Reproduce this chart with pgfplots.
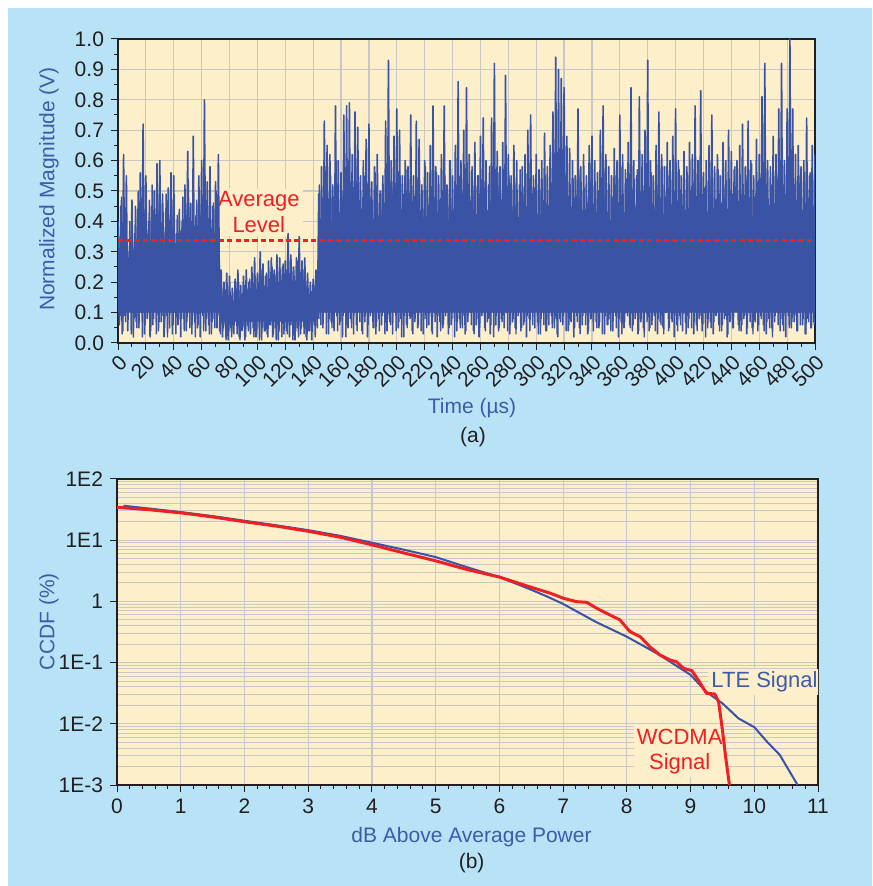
\documentclass[border=0pt]{standalone}
\usepackage{fontspec}
\setmainfont{Liberation Sans}
\usepackage{pgfplots}
\pgfplotsset{compat=1.18}
\definecolor{bgblue}{HTML}{B8E3F7}
\definecolor{wheat}{HTML}{FCEFC9}
\definecolor{sigblue}{HTML}{3A53A4}
\definecolor{lblue}{HTML}{3E5BA9}
\definecolor{sred}{HTML}{ED2024}
\definecolor{gridc}{HTML}{C8C8C8}
\definecolor{tickc}{HTML}{231F20}
\newcommand{\fs}{\fontsize{10.5}{12.6}\selectfont}
\pgfplotsset{
  myaxis/.style={
    scale only axis,
    anchor=south west,
    axis background/.style={fill=wheat},
    axis line style={tickc, line width=0.6pt},
    tick align=outside,
    xtick pos=bottom, ytick pos=left,
    major tick length=3.5pt, minor tick length=2pt,
    every tick/.style={tickc, line width=0.5pt},
    tick label style={font=\fs, text=tickc},
    /pgf/number format/assume math mode=true,
    major grid style={gridc, line width=0.6pt},
    minor grid style={gridc, line width=0.5pt},
  }
}
\begin{document}
\begin{tikzpicture}
\fill[white] (0pt,0pt) rectangle (436pt,443pt);
\fill[bgblue] (4pt,0pt) rectangle (436pt,439pt);
\begin{axis}[myaxis, at={(59pt,271.5pt)}, width=348.5pt, height=152pt,
  xmin=0, xmax=500, ymin=0, ymax=1,
  xtick={0,20,...,500}, minor x tick num=1,
  ytick={0,0.1,0.2,0.3,0.4,0.5,0.6,0.7,0.8,0.9,1.0}, minor y tick num=1,
  xmajorgrids, ymajorgrids,
  yticklabel style={/pgf/number format/.cd, fixed, fixed zerofill, precision=1},
  xticklabel style={rotate=45, anchor=north east, inner sep=1pt},
]
\node[fill=wheat, text=sred, align=center, font=\fontsize{11}{12.8}\selectfont, inner sep=1.5pt] at (axis cs:101,0.43) {Average\\Level};
% dense core of the signal
\addplot[draw=none, fill=sigblue] coordinates {
(0,0.28)(4,0.32)(8,0.22)(12,0.30)(18,0.33)(24,0.30)(30,0.34)(36,0.31)(42,0.29)(48,0.32)(54,0.34)(60,0.31)(66,0.33)(72,0.30)(73,0.13)(80,0.12)(90,0.13)(100,0.15)(110,0.16)(120,0.17)(130,0.16)(142,0.14)(144,0.30)(150,0.36)(160,0.38)(170,0.36)(180,0.35)(190,0.34)(200,0.37)(210,0.35)(220,0.34)(230,0.36)(240,0.37)(250,0.36)(260,0.35)(270,0.37)(280,0.36)(290,0.34)(300,0.35)(310,0.37)(320,0.38)(330,0.36)(340,0.34)(350,0.36)(360,0.35)(370,0.37)(380,0.36)(390,0.34)(400,0.35)(410,0.36)(420,0.34)(430,0.35)(440,0.36)(450,0.34)(460,0.36)(470,0.37)(480,0.37)(490,0.35)(500,0.34)
(500,0.10)(300,0.10)(144,0.10)(142,0.07)(73,0.07)(72,0.10)(0,0.10)};
% spikes, series sampled at whole microseconds
\addplot[sigblue, line width=0.8pt, line join=round] coordinates {
(0,0.40)(1,0.06)(2,0.45)(3,0.03)(4,0.62)(5,0.09)(6,0.55)(7,0.04)(8,0.30)(9,0.12)(10,0.47)(11,0.02)(12,0.36)(13,0.07)(14,0.44)(15,0.05)(16,0.56)(17,0.10)(18,0.72)(19,0.03)
(20,0.55)(21,0.08)(22,0.40)(23,0.02)(24,0.45)(25,0.06)(26,0.50)(27,0.11)(28,0.59)(29,0.04)(30,0.60)(31,0.07)(32,0.49)(33,0.02)(34,0.38)(35,0.09)(36,0.51)(37,0.05)(38,0.56)(39,0.03)
(40,0.55)(41,0.10)(42,0.36)(43,0.06)(44,0.44)(45,0.02)(46,0.40)(47,0.08)(48,0.52)(49,0.04)(50,0.63)(51,0.12)(52,0.46)(53,0.03)(54,0.68)(55,0.07)(56,0.42)(57,0.05)(58,0.55)(59,0.02)
(60,0.60)(61,0.09)(62,0.80)(63,0.04)(64,0.53)(65,0.06)(66,0.58)(67,0.03)(68,0.45)(69,0.08)(70,0.53)(71,0.05)(72,0.62)
(73,0.04)(74,0.24)(75,0.02)(76,0.20)(77,0.06)(78,0.23)(79,0.01)(80,0.22)(81,0.05)(82,0.18)(83,0.03)(84,0.21)(85,0.07)(86,0.24)(87,0.02)(88,0.19)(89,0.04)(90,0.22)(91,0.01)(92,0.24)
(93,0.06)(94,0.20)(95,0.03)(96,0.25)(97,0.05)(98,0.28)(99,0.02)(100,0.23)(101,0.08)(102,0.30)(103,0.01)(104,0.26)(105,0.04)(106,0.22)(107,0.03)(108,0.27)(109,0.06)(110,0.28)(111,0.02)(112,0.24)
(113,0.05)(114,0.29)(115,0.01)(116,0.28)(117,0.07)(118,0.25)(119,0.03)(120,0.27)(121,0.04)(122,0.36)(123,0.02)(124,0.29)(125,0.06)(126,0.25)(127,0.01)(128,0.28)(129,0.05)(130,0.35)(131,0.03)(132,0.27)
(133,0.07)(134,0.28)(135,0.02)(136,0.23)(137,0.04)(138,0.20)(139,0.01)(140,0.21)(141,0.06)(142,0.24)(143,0.05)
(144,0.49)(145,0.08)(146,0.58)(147,0.05)(148,0.73)(149,0.11)(150,0.65)(151,0.03)(152,0.62)(153,0.07)(154,0.52)(155,0.04)(156,0.78)(157,0.09)(158,0.60)(159,0.06)(160,0.56)(161,0.02)(162,0.75)(163,0.10)
(164,0.78)(165,0.05)(166,0.79)(167,0.08)(168,0.62)(169,0.03)(170,0.76)(171,0.06)(172,0.71)(173,0.12)(174,0.55)(175,0.04)(176,0.60)(177,0.07)(178,0.67)(179,0.02)(180,0.72)(181,0.09)(182,0.53)(183,0.05)
(184,0.58)(185,0.03)(186,0.62)(187,0.08)(188,0.50)(189,0.06)(190,0.55)(191,0.11)(192,0.73)(193,0.04)(194,0.93)(195,0.07)(196,0.60)(197,0.03)(198,0.68)(199,0.10)(200,0.77)(201,0.05)(202,0.70)(203,0.08)
(204,0.55)(205,0.02)(206,0.60)(207,0.06)(208,0.58)(209,0.09)(210,0.75)(211,0.04)(212,0.55)(213,0.07)(214,0.73)(215,0.05)(216,0.67)(217,0.12)(218,0.52)(219,0.03)(220,0.60)(221,0.08)(222,0.56)(223,0.06)
(224,0.65)(225,0.04)(226,0.78)(227,0.10)(228,0.58)(229,0.02)(230,0.55)(231,0.07)(232,0.62)(233,0.05)(234,0.78)(235,0.09)(236,0.52)(237,0.03)(238,0.60)(239,0.06)(240,0.55)(241,0.11)(242,0.65)(243,0.04)
(244,0.86)(245,0.08)(246,0.60)(247,0.05)(248,0.70)(249,0.03)(250,0.84)(251,0.07)(252,0.62)(253,0.10)(254,0.58)(255,0.04)(256,0.66)(257,0.06)(258,0.55)(259,0.02)(260,0.68)(261,0.09)(262,0.74)(263,0.05)
(264,0.60)(265,0.07)(266,0.52)(267,0.03)(268,0.74)(269,0.11)(270,0.92)(271,0.06)(272,0.63)(273,0.04)(274,0.58)(275,0.08)(276,0.66)(277,0.05)(278,0.88)(279,0.10)(280,0.62)(281,0.03)(282,0.55)(283,0.07)
(284,0.65)(285,0.05)(286,0.60)(287,0.09)(288,0.52)(289,0.04)(290,0.58)(291,0.06)(292,0.62)(293,0.02)(294,0.70)(295,0.08)(296,0.75)(297,0.12)(298,0.55)(299,0.05)(300,0.62)(301,0.07)(302,0.57)(303,0.03)
(304,0.60)(305,0.10)(306,0.69)(307,0.04)(308,0.58)(309,0.06)(310,0.65)(311,0.09)(312,0.76)(313,0.05)(314,0.94)(315,0.03)(316,0.90)(317,0.08)(318,0.87)(319,0.06)(320,0.84)(321,0.11)(322,0.68)(323,0.04)
(324,0.64)(325,0.07)(326,0.60)(327,0.02)(328,0.55)(329,0.09)(330,0.77)(331,0.05)(332,0.58)(333,0.06)(334,0.62)(335,0.10)(336,0.55)(337,0.03)(338,0.65)(339,0.08)(340,0.68)(341,0.04)(342,0.60)(343,0.07)
(344,0.56)(345,0.05)(346,0.70)(347,0.11)(348,0.78)(349,0.03)(350,0.62)(351,0.06)(352,0.58)(353,0.08)(354,0.55)(355,0.04)(356,0.64)(357,0.09)(358,0.60)(359,0.02)(360,0.75)(361,0.07)(362,0.62)(363,0.05)
(364,0.57)(365,0.10)(366,0.66)(367,0.06)(368,0.84)(369,0.04)(370,0.60)(371,0.08)(372,0.55)(373,0.03)(374,0.81)(375,0.07)(376,0.62)(377,0.05)(378,0.70)(379,0.12)(380,0.93)(381,0.04)(382,0.60)(383,0.06)
(384,0.55)(385,0.09)(386,0.65)(387,0.03)(388,0.76)(389,0.07)(390,0.62)(391,0.05)(392,0.58)(393,0.10)(394,0.66)(395,0.04)(396,0.60)(397,0.08)(398,0.68)(399,0.02)(400,0.77)(401,0.06)(402,0.60)(403,0.09)
(404,0.55)(405,0.04)(406,0.63)(407,0.07)(408,0.58)(409,0.05)(410,0.66)(411,0.11)(412,0.62)(413,0.03)(414,0.78)(415,0.06)(416,0.60)(417,0.08)(418,0.83)(419,0.04)(420,0.56)(421,0.10)(422,0.60)(423,0.05)
(424,0.65)(425,0.07)(426,0.75)(427,0.03)(428,0.58)(429,0.09)(430,0.62)(431,0.06)(432,0.55)(433,0.04)(434,0.66)(435,0.08)(436,0.60)(437,0.02)(438,0.70)(439,0.07)(440,0.63)(441,0.05)(442,0.57)(443,0.11)
(444,0.60)(445,0.06)(446,0.65)(447,0.04)(448,0.72)(449,0.08)(450,0.58)(451,0.03)(452,0.73)(453,0.10)(454,0.60)(455,0.05)(456,0.55)(457,0.07)(458,0.67)(459,0.04)(460,0.62)(461,0.09)(462,0.81)(463,0.06)
(464,0.92)(465,0.03)(466,0.60)(467,0.08)(468,0.58)(469,0.05)(470,0.68)(471,0.07)(472,0.62)(473,0.11)(474,0.77)(475,0.04)(476,0.92)(477,0.06)(478,0.60)(479,0.02)(480,0.77)(481,0.09)(482,1.00)(483,0.05)
(484,0.77)(485,0.07)(486,0.62)(487,0.04)(488,0.65)(489,0.10)(490,0.58)(491,0.06)(492,0.60)(493,0.03)(494,0.74)(495,0.08)(496,0.55)(497,0.05)(498,0.65)(499,0.07)(500,0.62)};
% spikes, series sampled at half microseconds
\addplot[sigblue, line width=0.7pt, line join=round] coordinates {
(0.5,0.35)(1.5,0.09)(2.5,0.48)(3.5,0.04)(4.5,0.42)(5.5,0.07)(6.5,0.28)(7.5,0.12)(8.5,0.40)(9.5,0.03)(10.5,0.33)(11.5,0.08)(12.5,0.45)(13.5,0.05)(14.5,0.50)(15.5,0.10)(16.5,0.38)(17.5,0.02)(18.5,0.44)(19.5,0.06)
(20.5,0.36)(21.5,0.11)(22.5,0.47)(23.5,0.04)(24.5,0.52)(25.5,0.08)(26.5,0.41)(27.5,0.03)(28.5,0.46)(29.5,0.07)(30.5,0.34)(31.5,0.09)(32.5,0.43)(33.5,0.05)(34.5,0.49)(35.5,0.02)(36.5,0.39)(37.5,0.10)(38.5,0.45)(39.5,0.06)
(40.5,0.30)(41.5,0.03)(42.5,0.42)(43.5,0.08)(44.5,0.37)(45.5,0.12)(46.5,0.48)(47.5,0.04)(48.5,0.44)(49.5,0.07)(50.5,0.53)(51.5,0.05)(52.5,0.40)(53.5,0.09)(54.5,0.36)(55.5,0.02)(56.5,0.47)(57.5,0.06)(58.5,0.50)(59.5,0.10)
(60.5,0.43)(61.5,0.04)(62.5,0.55)(63.5,0.08)(64.5,0.41)(65.5,0.03)(66.5,0.38)(67.5,0.07)(68.5,0.46)(69.5,0.05)(70.5,0.50)(71.5,0.09)
(72.5,0.30)(73.5,0.03)(74.5,0.17)(75.5,0.05)(76.5,0.15)(77.5,0.01)(78.5,0.19)(79.5,0.04)(80.5,0.16)(81.5,0.02)(82.5,0.14)(83.5,0.06)(84.5,0.18)(85.5,0.03)(86.5,0.20)(87.5,0.01)(88.5,0.16)(89.5,0.05)(90.5,0.19)(91.5,0.02)
(92.5,0.17)(93.5,0.04)(94.5,0.21)(95.5,0.07)(96.5,0.18)(97.5,0.02)(98.5,0.22)(99.5,0.03)(100.5,0.20)(101.5,0.01)(102.5,0.24)(103.5,0.05)(104.5,0.19)(105.5,0.04)(106.5,0.23)(107.5,0.02)(108.5,0.21)(109.5,0.06)(110.5,0.25)(111.5,0.03)
(112.5,0.22)(113.5,0.01)(114.5,0.20)(115.5,0.04)(116.5,0.24)(117.5,0.02)(118.5,0.26)(119.5,0.05)(120.5,0.21)(121.5,0.03)(122.5,0.23)(123.5,0.06)(124.5,0.25)(125.5,0.01)(126.5,0.22)(127.5,0.04)(128.5,0.27)(129.5,0.02)(130.5,0.21)(131.5,0.05)
(132.5,0.24)(133.5,0.03)(134.5,0.20)(135.5,0.01)(136.5,0.18)(137.5,0.04)(138.5,0.17)(139.5,0.06)(140.5,0.19)(141.5,0.02)(142.5,0.20)(143.5,0.08)
(144.5,0.52)(145.5,0.06)(146.5,0.45)(147.5,0.10)(148.5,0.58)(149.5,0.03)(150.5,0.40)(151.5,0.08)(152.5,0.55)(153.5,0.05)(154.5,0.48)(155.5,0.11)(156.5,0.60)(157.5,0.04)(158.5,0.43)(159.5,0.07)(160.5,0.50)(161.5,0.09)(162.5,0.57)(163.5,0.02)
(164.5,0.46)(165.5,0.08)(166.5,0.53)(167.5,0.05)(168.5,0.41)(169.5,0.10)(170.5,0.58)(171.5,0.04)(172.5,0.49)(173.5,0.07)(174.5,0.44)(175.5,0.03)(176.5,0.55)(177.5,0.09)(178.5,0.38)(179.5,0.06)(180.5,0.51)(181.5,0.12)(182.5,0.47)(183.5,0.05)
(184.5,0.56)(185.5,0.07)(186.5,0.42)(187.5,0.04)(188.5,0.50)(189.5,0.09)(190.5,0.45)(191.5,0.03)(192.5,0.59)(193.5,0.08)(194.5,0.40)(195.5,0.06)(196.5,0.53)(197.5,0.11)(198.5,0.48)(199.5,0.04)(200.5,0.44)(201.5,0.07)(202.5,0.55)(203.5,0.02)
(204.5,0.49)(205.5,0.09)(206.5,0.57)(207.5,0.05)(208.5,0.41)(209.5,0.08)(210.5,0.52)(211.5,0.03)(212.5,0.46)(213.5,0.10)(214.5,0.54)(215.5,0.06)(216.5,0.39)(217.5,0.04)(218.5,0.50)(219.5,0.08)(220.5,0.58)(221.5,0.05)(222.5,0.45)(223.5,0.11)
(224.5,0.51)(225.5,0.03)(226.5,0.43)(227.5,0.07)(228.5,0.56)(229.5,0.09)(230.5,0.47)(231.5,0.04)(232.5,0.40)(233.5,0.06)(234.5,0.55)(235.5,0.10)(236.5,0.49)(237.5,0.05)(238.5,0.60)(239.5,0.08)(240.5,0.44)(241.5,0.02)(242.5,0.52)(243.5,0.07)
(244.5,0.48)(245.5,0.05)(246.5,0.54)(247.5,0.09)(248.5,0.42)(249.5,0.04)(250.5,0.57)(251.5,0.11)(252.5,0.46)(253.5,0.06)(254.5,0.50)(255.5,0.03)(256.5,0.41)(257.5,0.08)(258.5,0.55)(259.5,0.05)(260.5,0.47)(261.5,0.10)(262.5,0.53)(263.5,0.04)
(264.5,0.44)(265.5,0.08)(266.5,0.58)(267.5,0.06)(268.5,0.50)(269.5,0.02)(270.5,0.43)(271.5,0.09)(272.5,0.56)(273.5,0.05)(274.5,0.39)(275.5,0.07)(276.5,0.52)(277.5,0.11)(278.5,0.47)(279.5,0.04)(280.5,0.55)(281.5,0.06)(282.5,0.45)(283.5,0.08)
(284.5,0.53)(285.5,0.03)(286.5,0.41)(287.5,0.10)(288.5,0.57)(289.5,0.05)(290.5,0.49)(291.5,0.07)(292.5,0.44)(293.5,0.09)(294.5,0.60)(295.5,0.04)(296.5,0.46)(297.5,0.06)(298.5,0.51)(299.5,0.12)(300.5,0.40)(301.5,0.03)(302.5,0.54)(303.5,0.08)
(304.5,0.47)(305.5,0.06)(306.5,0.55)(307.5,0.04)(308.5,0.43)(309.5,0.10)(310.5,0.52)(311.5,0.05)(312.5,0.58)(313.5,0.08)(314.5,0.45)(315.5,0.02)(316.5,0.50)(317.5,0.07)(318.5,0.42)(319.5,0.09)(320.5,0.56)(321.5,0.04)(322.5,0.48)(323.5,0.06)
(324.5,0.40)(325.5,0.11)(326.5,0.54)(327.5,0.05)(328.5,0.49)(329.5,0.07)(330.5,0.57)(331.5,0.03)(332.5,0.44)(333.5,0.09)(334.5,0.51)(335.5,0.06)(336.5,0.46)(337.5,0.04)(338.5,0.59)(339.5,0.08)(340.5,0.42)(341.5,0.10)(342.5,0.53)(343.5,0.05)
(344.5,0.50)(345.5,0.07)(346.5,0.45)(347.5,0.03)(348.5,0.56)(349.5,0.09)(350.5,0.41)(351.5,0.06)(352.5,0.52)(353.5,0.04)(354.5,0.48)(355.5,0.11)(356.5,0.55)(357.5,0.05)(358.5,0.43)(359.5,0.08)(360.5,0.58)(361.5,0.03)(362.5,0.46)(363.5,0.07)
(364.5,0.54)(365.5,0.09)(366.5,0.40)(367.5,0.05)(368.5,0.51)(369.5,0.06)(370.5,0.47)(371.5,0.10)(372.5,0.57)(373.5,0.04)(374.5,0.44)(375.5,0.08)(376.5,0.50)(377.5,0.02)(378.5,0.53)(379.5,0.07)(380.5,0.42)(381.5,0.05)(382.5,0.56)(383.5,0.09)
(384.5,0.45)(385.5,0.04)(386.5,0.52)(387.5,0.08)(388.5,0.48)(389.5,0.06)(390.5,0.58)(391.5,0.03)(392.5,0.41)(393.5,0.11)(394.5,0.55)(395.5,0.05)(396.5,0.46)(397.5,0.07)(398.5,0.50)(399.5,0.09)(400.5,0.43)(401.5,0.04)(402.5,0.57)(403.5,0.06)
(404.5,0.49)(405.5,0.10)(406.5,0.44)(407.5,0.03)(408.5,0.56)(409.5,0.08)(410.5,0.42)(411.5,0.05)(412.5,0.53)(413.5,0.07)(414.5,0.47)(415.5,0.04)(416.5,0.60)(417.5,0.09)(418.5,0.45)(419.5,0.06)(420.5,0.51)(421.5,0.02)(422.5,0.40)(423.5,0.08)
(424.5,0.55)(425.5,0.05)(426.5,0.48)(427.5,0.07)(428.5,0.43)(429.5,0.10)(430.5,0.57)(431.5,0.04)(432.5,0.46)(433.5,0.06)(434.5,0.52)(435.5,0.09)(436.5,0.41)(437.5,0.03)(438.5,0.54)(439.5,0.08)(440.5,0.49)(441.5,0.05)(442.5,0.58)(443.5,0.11)
(444.5,0.44)(445.5,0.04)(446.5,0.51)(447.5,0.06)(448.5,0.47)(449.5,0.09)(450.5,0.55)(451.5,0.05)(452.5,0.42)(453.5,0.07)(454.5,0.59)(455.5,0.03)(456.5,0.48)(457.5,0.10)(458.5,0.53)(459.5,0.06)(460.5,0.45)(461.5,0.08)(462.5,0.50)(463.5,0.04)
(464.5,0.57)(465.5,0.07)(466.5,0.43)(467.5,0.05)(468.5,0.52)(469.5,0.02)(470.5,0.46)(471.5,0.09)(472.5,0.56)(473.5,0.06)(474.5,0.40)(475.5,0.08)(476.5,0.54)(477.5,0.04)(478.5,0.49)(479.5,0.11)(480.5,0.58)(481.5,0.05)(482.5,0.44)(483.5,0.07)
(484.5,0.51)(485.5,0.09)(486.5,0.47)(487.5,0.04)(488.5,0.55)(489.5,0.06)(490.5,0.42)(491.5,0.08)(492.5,0.53)(493.5,0.03)(494.5,0.48)(495.5,0.07)(496.5,0.56)(497.5,0.05)(498.5,0.45)(499.5,0.06)};
\addplot[sred, line width=1.6pt, dash pattern=on 2.6pt off 1.6pt] coordinates {(0,0.336)(500,0.336)};
\end{axis}
\begin{axis}[myaxis, at={(58.5pt,50.5pt)}, width=350.5pt, height=153pt,
  xmin=0, xmax=11, ymin=1e-3, ymax=1e2, ymode=log,
  xtick={0,1,2,3,4,5,6,7,8,9,10,11}, minor x tick num=4,
  ytick={1e-3,1e-2,1e-1,1,1e1,1e2}, yticklabels={1E-3,1E-2,1E-1,1,1E1,1E2},
  minor ytick={2e-3,3e-3,4e-3,5e-3,6e-3,7e-3,8e-3,9e-3,2e-2,3e-2,4e-2,5e-2,6e-2,7e-2,8e-2,9e-2,0.2,0.3,0.4,0.5,0.6,0.7,0.8,0.9,2,3,4,5,6,7,8,9,20,30,40,50,60,70,80,90},
  minor y tick style={draw=none},
  xmajorgrids, ymajorgrids, yminorgrids,
]
\node[fill=wheat, text=lblue, font=\fontsize{11}{13}\selectfont, inner sep=1.5pt] at (axis cs:10.16,0.048) {LTE Signal};
\node[fill=wheat, text=sred, font=\fontsize{11}{12.8}\selectfont, align=center, inner sep=1.5pt] at (axis cs:8.83,0.0035) {WCDMA\\Signal};
\addplot[sigblue, line width=1pt] coordinates {
(0.1,36.6)(0.5,33)(1,28.8)(1.5,24.8)(2,20.8)(2.5,17.5)(3,14.6)(3.5,11.8)(4,9.1)(4.5,7)(5,5.3)(5.5,3.6)(6,2.5)(6.5,1.55)(6.75,1.2)(7,0.91)(7.5,0.47)(8,0.265)(8.5,0.136)(9,0.063)(9.25,0.033)(9.5,0.0216)(9.75,0.0123)(10,0.0088)(10.2,0.0051)(10.4,0.0031)(10.68,0.001)};
\addplot[sred, line width=1.5pt, line join=round] coordinates {
(0,34.5)(0.5,31.5)(1,28)(1.5,24)(2,20)(2.5,17)(3,14)(3.5,11.2)(4,8.4)(4.5,6.2)(5,4.6)(5.5,3.3)(6,2.5)(6.5,1.7)(6.8,1.36)(7.01,1.12)(7.21,0.99)(7.37,0.966)(7.53,0.77)(7.68,0.64)(7.89,0.50)(8.05,0.32)(8.21,0.265)(8.36,0.182)(8.52,0.133)(8.68,0.110)(8.78,0.103)(8.89,0.0805)(9.02,0.0738)(9.12,0.052)(9.25,0.0315)(9.38,0.0307)(9.44,0.023)(9.50,0.0079)(9.55,0.0029)(9.61,0.001)};
\end{axis}
\node[rotate=90, text=lblue, font=\fs] at (24.5pt,348.5pt) {Normalized Magnitude (V)};
\node[text=lblue, font=\fs] at (236pt,239pt) {Time (µs)};
\node[text=tickc, font=\fs] at (236.5pt,224.5pt) {(a)};
\node[rotate=90, text=lblue, font=\fs] at (24.5pt,132.2pt) {CCDF (\%)};
\node[text=lblue, font=\fs] at (235.75pt,24.7pt) {dB Above Average Power};
\node[text=tickc, font=\fs] at (235.8pt,11.5pt) {(b)};
\end{tikzpicture}
\end{document}
